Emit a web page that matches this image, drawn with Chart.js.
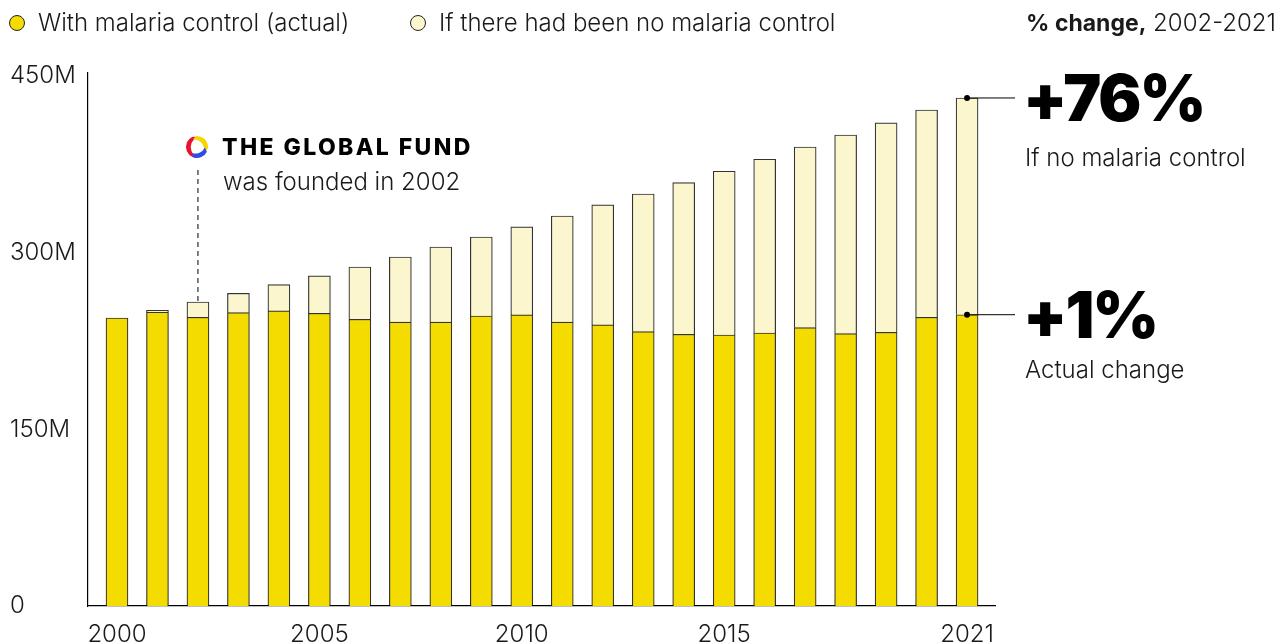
<!DOCTYPE html>
<html>
<head>
<meta charset="utf-8">
<title>Malaria cases with and without malaria control</title>
<script src="https://cdn.jsdelivr.net/npm/chart.js@4.4.1/dist/chart.umd.min.js"></script>
<style>
    html, body { margin: 0; padding: 0; background: #fff; }
    #wrap { width: 1288px; height: 644px; }
</style>
</head>
<body>
<div id="wrap"><canvas id="malaria-chart" width="1288" height="644"></canvas></div>
<script>
// Cases per year, in millions
const years = [2000, 2001, 2002, 2003, 2004, 2005, 2006, 2007, 2008, 2009, 2010,
    2011, 2012, 2013, 2014, 2015, 2016, 2017, 2018, 2019, 2020, 2021];
const actualCases = [244.5, 249.4, 245.1, 249.0, 250.5, 248.5, 243.4, 241.1, 241.1, 246.2, 247.1,
    241.1, 238.6, 232.9, 230.7, 230.1, 231.8, 236.3, 231.2, 232.4, 245.1, 247.3];
const noControlCases = [244.5, 251.1, 258.1, 265.5, 272.8, 280.2, 287.8, 296.3, 304.8, 313.3, 321.8,
    331.1, 340.5, 349.8, 359.4, 369.1, 379.3, 389.7, 399.9, 410.1, 421.1, 431.3];
const xTickYears = [2000, 2005, 2010, 2015, 2021];
const yTickValues = [0, 150, 300, 450];
const seriesLabels = ['With malaria control (actual)', 'If there had been no malaria control'];
const foundedYear = 2002;

(function() {
    'use strict';

    const FONT = 'Inter, "Noto Sans", sans-serif';
    const YELLOW = '#F5DC00';
    const LIGHT = '#FBF6CE';
    const EDGE = 'rgba(0, 0, 0, 0.8)';
    const INK = '#1a1a1a';

    // extra cases that would have happened without control, stacked on top
    const extraCases = noControlCases.map((v, i) => Math.max(0, v - actualCases[i]));

    /**
     * Tapered crescent used for the logo swirl
     */
    function crescent(ctx, cx, cy, r, a0, a1, color) {
        const mid = (a0 + a1) / 2;
        const d = 4.5;
        const ix = cx - Math.cos(mid) * d;
        const iy = cy - Math.sin(mid) * d;
        ctx.beginPath();
        ctx.arc(cx, cy, r, a0, a1);
        ctx.arc(ix, iy, r - 0.3, a1, a0, true);
        ctx.closePath();
        ctx.fillStyle = color;
        ctx.fill();
    }

    /**
     * Draw legend, header, Global Fund note and % change call-outs
     */
    const annotations = {
        id: 'annotations',
        afterDraw(chart) {
            const ctx = chart.ctx;
            const x = chart.scales.x;
            const y = chart.scales.y;

            ctx.save();

            // legend
            const legendItems = [
                { cx: 17, color: YELLOW, text: seriesLabels[0] },
                { cx: 418, color: LIGHT, text: seriesLabels[1] }
            ];
            legendItems.forEach(item => {
                ctx.beginPath();
                ctx.arc(item.cx, 23, 7.5, 0, Math.PI * 2);
                ctx.fillStyle = item.color;
                ctx.fill();
                ctx.lineWidth = 1;
                ctx.strokeStyle = '#222';
                ctx.stroke();

                ctx.font = '300 24px ' + FONT;
                ctx.fillStyle = INK;
                ctx.textAlign = 'left';
                ctx.textBaseline = 'middle';
                ctx.fillText(item.text, item.cx + 21, 24);
            });

            // header on the right
            ctx.textAlign = 'right';
            ctx.font = '300 24px ' + FONT;
            const tail = ' 2002-2021';
            ctx.fillText(tail, 1276, 24);
            const tailW = ctx.measureText(tail).width;
            ctx.font = '700 23px ' + FONT;
            ctx.fillText('% change,', 1276 - tailW, 24);

            // Global Fund note, pointing at 2002 bar
            const fx = x.getPixelForValue(foundedYear);
            const fTop = y.getPixelForValue(noControlCases[years.indexOf(foundedYear)]);
            ctx.beginPath();
            ctx.setLineDash([5, 4]);
            ctx.lineWidth = 1;
            ctx.strokeStyle = '#000';
            ctx.moveTo(fx, 170);
            ctx.lineTo(fx, fTop);
            ctx.stroke();
            ctx.setLineDash([]);

            // logo swirl
            const lx = fx - 1, ly = 147;
            crescent(ctx, lx, ly, 11, 0.62 * Math.PI, 1.38 * Math.PI, '#E8132F');
            crescent(ctx, lx, ly, 11, 1.48 * Math.PI, 2.05 * Math.PI, '#F6D500');
            crescent(ctx, lx, ly, 11, 0.14 * Math.PI, 0.60 * Math.PI, '#2F4DE0');

            ctx.fillStyle = '#000';
            ctx.textAlign = 'left';
            ctx.textBaseline = 'alphabetic';
            ctx.font = '800 23px ' + FONT;
            ctx.letterSpacing = '2.4px';
            ctx.fillText('THE GLOBAL FUND', 222, 155);
            ctx.letterSpacing = '0px';
            ctx.font = '300 24px ' + FONT;
            ctx.fillStyle = INK;
            ctx.fillText('was founded in 2002', 223, 190);

            // % change call-outs from the 2021 bar
            const last = years.length - 1;
            const bx = x.getPixelForValue(years[last]);
            const callouts = [
                { yv: noControlCases[last], big: '+76%', small: 'If no malaria control', dy: 68 },
                { yv: actualCases[last], big: '+1%', small: 'Actual change', dy: 63 }
            ];
            callouts.forEach(c => {
                const py = y.getPixelForValue(c.yv);
                ctx.beginPath();
                ctx.strokeStyle = '#000';
                ctx.lineWidth = 1;
                ctx.moveTo(bx, py);
                ctx.lineTo(1015, py);
                ctx.stroke();
                ctx.beginPath();
                ctx.fillStyle = '#000';
                ctx.arc(bx, py, 3, 0, Math.PI * 2);
                ctx.fill();

                ctx.font = '900 64px ' + FONT;
                ctx.letterSpacing = '-2px';
                ctx.fillText(c.big, 1023, py + 23);
                ctx.letterSpacing = '0px';
                ctx.font = '300 24px ' + FONT;
                ctx.fillStyle = INK;
                ctx.fillText(c.small, 1025, py + c.dy);
            });

            ctx.restore();
        }
    };

    const ctx = document.getElementById('malaria-chart');

    new Chart(ctx, {
        type: 'bar',
        data: {
            datasets: [{
                label: seriesLabels[0],
                data: years.map((yr, i) => ({ x: yr, y: actualCases[i] })),
                backgroundColor: YELLOW,
                borderColor: EDGE,
                borderWidth: 1.2,
                barThickness: 22
            }, {
                label: seriesLabels[1],
                data: years.map((yr, i) => ({ x: yr, y: extraCases[i] })),
                backgroundColor: LIGHT,
                borderColor: EDGE,
                borderWidth: 1.2,
                barThickness: 22
            }]
        },
        options: {
            responsive: false,
            animation: false,
            layout: {
                padding: { top: 73, right: 293, left: 10, bottom: 0 }
            },
            plugins: {
                legend: { display: false },
                tooltip: { enabled: false }
            },
            scales: {
                x: {
                    type: 'linear',
                    stacked: true,
                    min: 1999.284,
                    max: 2021.69,
                    offset: false,
                    grid: { display: false, drawTicks: false },
                    border: { display: true, color: '#000', width: 1.2 },
                    afterBuildTicks: scale => {
                        scale.ticks = xTickYears.map(v => ({ value: v }));
                    },
                    afterFit: scale => {
                        scale.height = 38;
                    },
                    ticks: {
                        autoSkip: false,
                        maxRotation: 0,
                        padding: 14,
                        color: INK,
                        font: { family: FONT, size: 24, weight: 300 },
                        callback: v => String(v)
                    }
                },
                y: {
                    stacked: true,
                    min: 0,
                    max: 452.5,
                    grid: { display: false, drawTicks: false },
                    border: { display: true, color: '#000', width: 1.2 },
                    afterBuildTicks: scale => {
                        scale.ticks = yTickValues.map(v => ({ value: v }));
                    },
                    afterFit: scale => {
                        scale.width = 78;
                    },
                    ticks: {
                        crossAlign: 'far',
                        padding: 0,
                        color: INK,
                        font: { family: FONT, size: 24, weight: 300 },
                        callback: v => v === 0 ? '0' : v + 'M'
                    }
                }
            }
        },
        plugins: [annotations]
    });
})();
</script>
</body>
</html>
